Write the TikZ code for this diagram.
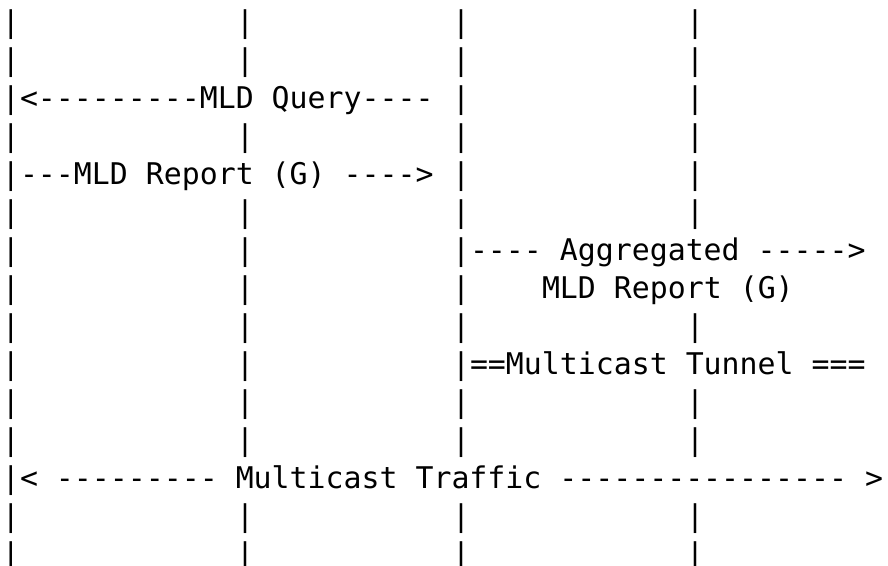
\documentclass[tikz,border=0pt]{standalone}
\usepackage{fontspec}
\setmonofont{DejaVu Sans Mono}
\begin{document}
% one column = 13.5pt wide, one text line = 28.5pt tall
\begin{tikzpicture}[x=13.5pt,y=-28.5pt,
  glyphs/.style={anchor=base west, inner sep=0pt, outer sep=0pt,
                 font=\ttfamily\fontsize{22.4pt}{28.5pt}\selectfont}]
\useasboundingbox (0pt,0pt) rectangle (666pt,-424.5pt);
\begin{scope}[shift={(1.5pt,-24.6pt)}]
  % lifelines, drawn as bar characters in columns 0, 13, 25 and 38
  \foreach \r in {0,...,14} {\node[glyphs] (bA-\r) at (0,\r) {|};}
  \foreach \r in {0,1,3,5,6,7,8,9,10,11,13,14} {\node[glyphs] (bB-\r) at (13,\r) {|};}
  \foreach \r in {0,1,2,3,4,5,6,7,8,9,10,11,13,14} {\node[glyphs] (bC-\r) at (25,\r) {|};}
  \foreach \r in {0,1,2,3,4,5,8,10,11,13,14} {\node[glyphs] (bD-\r) at (38,\r) {|};}
  % messages
  \node[glyphs] (query)     at (1,2)  {<---------MLD Query----};
  \node[glyphs] (report)    at (1,4)  {---MLD Report (G) ---->};
  \node[glyphs] (aggr)      at (26,6) {---- Aggregated ----->};
  \node[glyphs] (aggrlabel) at (30,7) {MLD Report (G)};
  \node[glyphs] (tunnel)    at (26,9) {==Multicast Tunnel ===};
  \node[glyphs] (traffic)   at (1,12) {< --------- Multicast Traffic ---------------- >};
\end{scope}
\end{tikzpicture}
\end{document}
